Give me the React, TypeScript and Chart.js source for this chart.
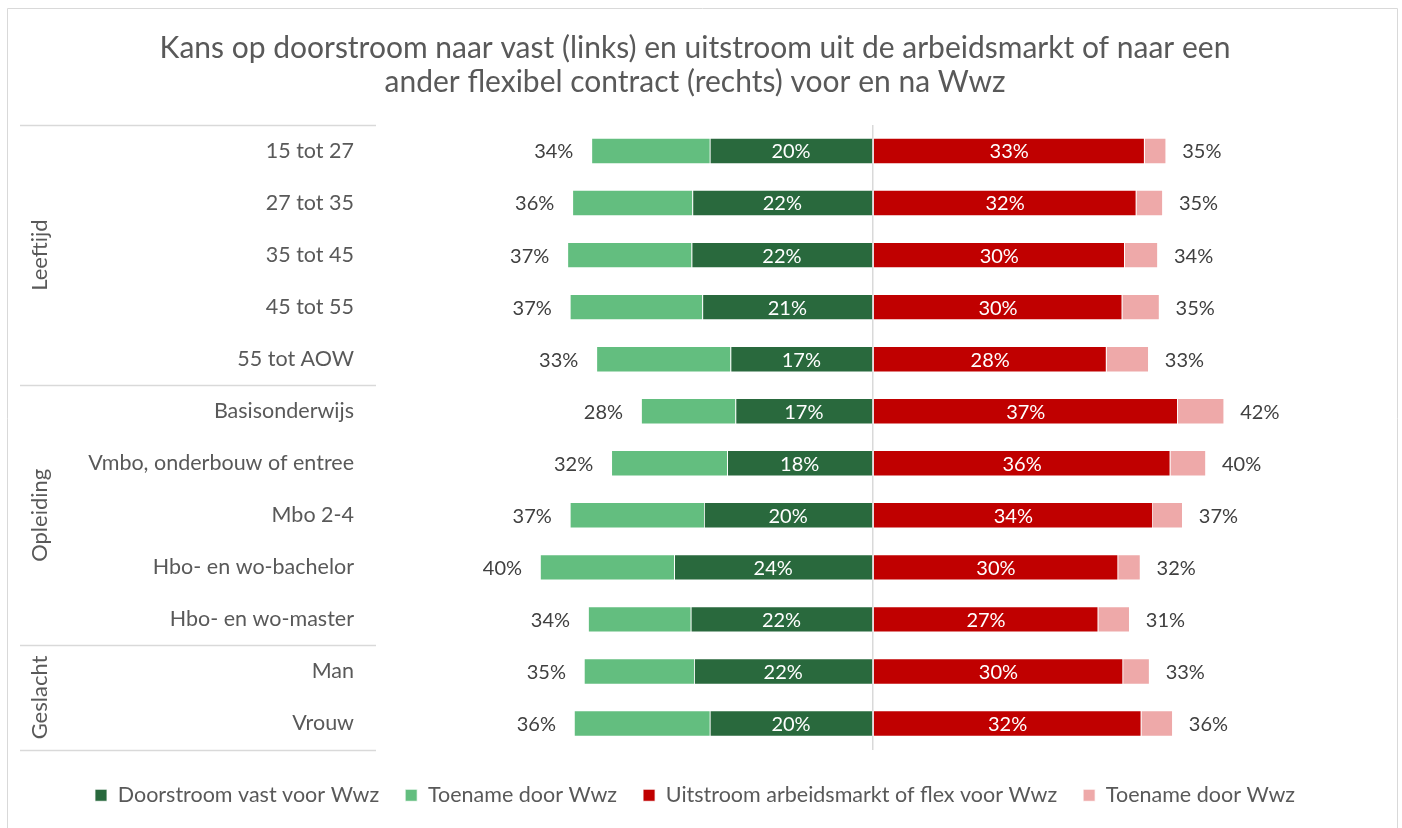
import { useEffect, useRef } from "react";
import { Chart, registerables } from "chart.js";

Chart.register(...registerables);

const titleLines = [
  "Kans op doorstroom naar vast (links) en uitstroom uit de arbeidsmarkt of naar een",
  "ander flexibel contract (rechts) voor en na Wwz",
];

const categories = [
  "15 tot 27",
  "27 tot 35",
  "35 tot 45",
  "45 tot 55",
  "55 tot AOW",
  "Basisonderwijs",
  "Vmbo, onderbouw of entree",
  "Mbo 2-4",
  "Hbo- en wo-bachelor",
  "Hbo- en wo-master",
  "Man",
  "Vrouw",
];

const groupNames = ["Leeftijd", "Opleiding", "Geslacht"];
const groupSizes = [5, 5, 2];

// Left side (doorstroom naar vast)
const doorstroomVoor = [19.7, 21.8, 21.9, 20.6, 17.2, 16.6, 17.6, 20.4, 24.0, 22.0, 21.6, 19.7];
const doorstroomNa = [34.0, 36.3, 36.9, 36.6, 33.4, 28.0, 31.6, 36.6, 40.2, 34.4, 34.9, 36.1];

// Right side (uitstroom arbeidsmarkt of flex)
const uitstroomVoor = [32.8, 31.8, 30.4, 30.1, 28.2, 36.8, 35.9, 33.8, 29.6, 27.2, 30.2, 32.4];
const uitstroomNa = [35.4, 35.0, 34.4, 34.6, 33.3, 42.4, 40.2, 37.4, 32.3, 31.0, 33.4, 36.2];

const seriesNames = [
  "Doorstroom vast voor Wwz",
  "Toename door Wwz",
  "Uitstroom arbeidsmarkt of flex voor Wwz",
  "Toename door Wwz",
];
const seriesColors = ["#29693D", "#63BE7F", "#C00000", "#EEA9A9"];

const FONT = "Lato, 'Open Sans', sans-serif";
const TEXT = "#595959";

const labelPlugin = {
  id: "barLabels",
  afterDatasetsDraw(chart: any) {
    const ctx = chart.ctx;
    const m0 = chart.getDatasetMeta(0);
    const m1 = chart.getDatasetMeta(1);
    const m2 = chart.getDatasetMeta(2);
    const m3 = chart.getDatasetMeta(3);
    ctx.save();
    ctx.font = `20px ${FONT}`;
    ctx.textBaseline = "middle";
    categories.forEach((_, i) => {
      const d = m0.data[i];
      const l = m1.data[i];
      const r = m2.data[i];
      const p = m3.data[i];
      ctx.fillStyle = "#FFFFFF";
      ctx.textAlign = "center";
      ctx.fillText(Math.round(doorstroomVoor[i]) + "%", (d.x + d.base) / 2, d.y + 1);
      ctx.fillText(Math.round(uitstroomVoor[i]) + "%", (r.x + r.base) / 2, r.y + 1);
      ctx.fillStyle = "#404040";
      ctx.textAlign = "right";
      ctx.fillText(Math.round(doorstroomNa[i]) + "%", l.x - 18, l.y + 1);
      ctx.textAlign = "left";
      ctx.fillText(Math.round(uitstroomNa[i]) + "%", p.x + 16, p.y + 1);
    });
    ctx.restore();
  },
};

const groupPlugin = {
  id: "groups",
  afterDraw(chart: any) {
    const ctx = chart.ctx;
    const y = chart.scales.y;
    const area = chart.chartArea;
    const left = 20;
    const step = (area.bottom - area.top) / categories.length;
    ctx.save();
    // frame
    ctx.strokeStyle = "#D9D9D9";
    ctx.lineWidth = 1;
    ctx.beginPath();
    ctx.moveTo(7.5, 840);
    ctx.lineTo(7.5, 8.5);
    ctx.lineTo(1397.5, 8.5);
    ctx.lineTo(1397.5, 840);
    ctx.stroke();
    // separators
    let idx = 0;
    const bounds = [area.top];
    groupSizes.forEach((n) => {
      idx += n;
      bounds.push(y.getPixelForValue(idx - 1) + step / 2);
    });
    ctx.strokeStyle = "#D9D9D9";
    ctx.lineWidth = 1.5;
    bounds.forEach((b) => {
      ctx.beginPath();
      ctx.moveTo(left, Math.round(b) + 0.5);
      ctx.lineTo(area.left, Math.round(b) + 0.5);
      ctx.stroke();
    });
    // group names
    ctx.fillStyle = TEXT;
    ctx.font = `22px ${FONT}`;
    ctx.textAlign = "center";
    ctx.textBaseline = "middle";
    groupNames.forEach((g, k) => {
      const cy = (bounds[k] + bounds[k + 1]) / 2;
      ctx.save();
      ctx.translate(40, cy);
      ctx.rotate(-Math.PI / 2);
      ctx.fillText(g, 0, 0);
      ctx.restore();
    });
    ctx.restore();
  },
};

export default function App() {
  const ref = useRef<HTMLCanvasElement | null>(null);

  useEffect(() => {
    document.body.style.margin = "0";
    const canvas = ref.current;
    if (!canvas) return;
    const chart = new Chart(canvas, {
      type: "bar",
      data: {
        labels: categories,
        datasets: [
          {
            label: seriesNames[0],
            data: doorstroomVoor.map((v) => -v),
            backgroundColor: seriesColors[0],
            borderColor: "#FFFFFF",
            borderWidth: 0.8,
          },
          {
            label: seriesNames[1],
            data: doorstroomNa.map((v, i) => -(v - doorstroomVoor[i])),
            backgroundColor: seriesColors[1],
            borderColor: "#FFFFFF",
            borderWidth: 0.8,
          },
          {
            label: seriesNames[2],
            data: uitstroomVoor,
            backgroundColor: seriesColors[2],
            borderColor: "#FFFFFF",
            borderWidth: 0.8,
          },
          {
            label: seriesNames[3],
            data: uitstroomNa.map((v, i) => v - uitstroomVoor[i]),
            backgroundColor: seriesColors[3],
            borderColor: "#FFFFFF",
            borderWidth: 0.8,
          },
        ],
      },
      options: {
        indexAxis: "y",
        responsive: false,
        animation: false,
        devicePixelRatio: 1,
        layout: { padding: { left: 20, right: 32, top: 0, bottom: 12 } },
        datasets: {
          bar: { categoryPercentage: 1, barPercentage: 0.5 },
        },
        scales: {
          x: {
            stacked: true,
            min: -60,
            max: 60,
            ticks: { display: false, stepSize: 20 },
            border: { display: false },
            grid: {
              drawTicks: false,
              lineWidth: 1.5,
              color: (c: any) => (c.tick && c.tick.value === 0 ? "#D9D9D9" : "rgba(0,0,0,0)"),
            },
            afterFit: (s: any) => {
              s.height = 9;
            },
          },
          y: {
            stacked: true,
            grid: { display: false, drawTicks: false },
            border: { display: false },
            ticks: {
              color: TEXT,
              font: { family: FONT, size: 21.5 },
              padding: 22,
              autoSkip: false,
            },
            afterFit: (s: any) => {
              s.width = 356;
            },
          },
        },
        plugins: {
          title: {
            display: true,
            text: titleLines,
            color: TEXT,
            font: { family: FONT, size: 30, weight: "normal", lineHeight: 1.133 },
            padding: { top: 31, bottom: 26 },
          },
          legend: {
            position: "bottom",
            labels: {
              color: TEXT,
              font: { family: FONT, size: 21.5 },
              boxWidth: 12,
              boxHeight: 12,
              padding: 26,
            },
          },
          tooltip: { enabled: false },
        },
      },
      plugins: [labelPlugin, groupPlugin],
    });
    return () => chart.destroy();
  }, []);

  return (
    <div style={{ width: 1402, height: 828, background: "#FFFFFF" }}>
      <canvas ref={ref} width={1402} height={828} style={{ display: "block" }} />
    </div>
  );
}
